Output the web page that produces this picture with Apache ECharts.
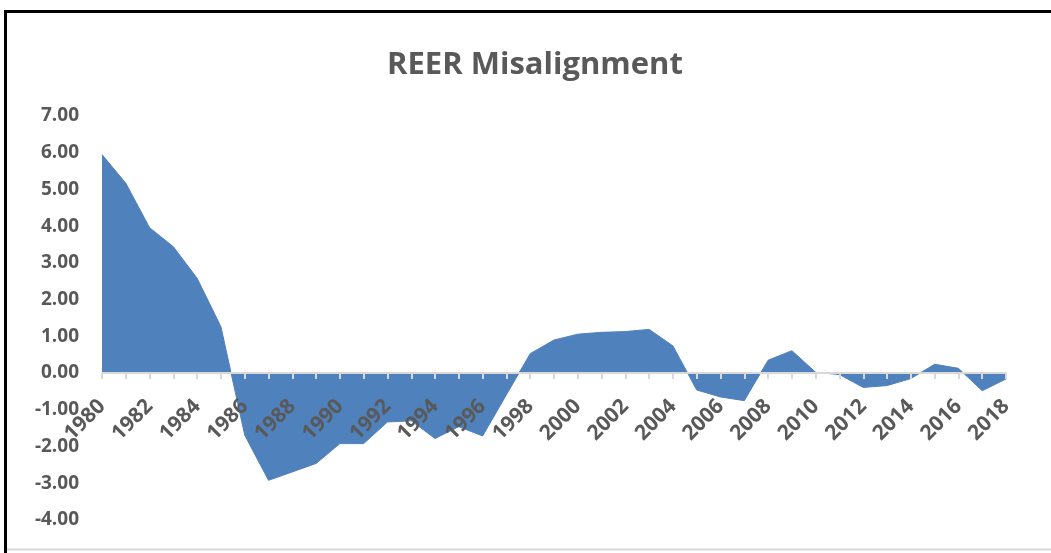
<!DOCTYPE html>
<html>
<head>
<meta charset="utf-8">
<script src="https://cdn.jsdelivr.net/npm/echarts@6/dist/echarts.min.js"></script>
<style>
  html, body { margin: 0; padding: 0; background: #fff; }
  #chart { width: 1051px; height: 553px; }
</style>
</head>
<body>
<div id="chart"></div>
<script>
// years on the x axis
const years = []
for (let y = 1980; y <= 2018; y++) years.push(String(y))

// misalignment values
const misalignment = [
  5.95, 5.17, 3.96, 3.44, 2.58, 1.26, -1.69, -2.92, -2.69, -2.46,
  -1.92, -1.92, -1.33, -1.30, -1.78, -1.46, -1.71, -0.59, 0.53, 0.90,
  1.06, 1.11, 1.13, 1.19, 0.74, -0.46, -0.65, -0.75, 0.35, 0.61,
  0.02, -0.04, -0.39, -0.34, -0.15, 0.24, 0.13, -0.48, -0.16
]

const yTicks = { min: -4, max: 7, step: 1 }

const grey = '#595959'
const blue = '#4f81bd'

// plot box
const W = 1051, H = 553
const grid = { left: 102, right: 45, top: 116, bottom: 33 }
const plotH = H - grid.top - grid.bottom
// the category axis sits on zero, labels included
const zeroOffset = -plotH * (0 - yTicks.min) / (yTicks.max - yTicks.min)

const chart = echarts.init(document.getElementById('chart'))

chart.setOption({
  backgroundColor: '#fff',
  animation: false,
  title: {
    text: 'REER Misalignment',
    left: 382,
    top: 45,
    textStyle: {
      color: grey,
      fontFamily: 'Open Sans',
      fontWeight: 'bold',
      fontSize: 31
    }
  },
  grid: { ...grid, containLabel: false, outerBoundsMode: 'none' },
  xAxis: {
    type: 'category',
    boundaryGap: false,
    data: years,
    offset: zeroOffset,
    axisLine: { onZero: false, lineStyle: { color: '#d9d9d9', width: 2 } },
    axisTick: { show: true, interval: 0, length: 6, lineStyle: { color: '#d9d9d9', width: 2 } },
    axisLabel: {
      interval: 1,
      rotate: 45,
      margin: 30,
      color: grey,
      fontFamily: 'Open Sans',
      fontWeight: 'bold',
      fontSize: 21
    },
    z: 3
  },
  yAxis: {
    type: 'value',
    min: yTicks.min,
    max: yTicks.max,
    interval: yTicks.step,
    axisLine: { show: false },
    axisTick: { show: false },
    splitLine: { show: false },
    axisLabel: {
      margin: 23,
      color: grey,
      fontFamily: 'Open Sans',
      fontWeight: 'bold',
      fontSize: 19,
      formatter: (v) => v.toFixed(2)
    }
  },
  series: [{
    type: 'line',
    data: misalignment,
    symbol: 'none',
    lineStyle: { color: blue, width: 1 },
    areaStyle: { color: blue, opacity: 1 },
    z: 2
  }],
  graphic: [
    // frame around the chart area
    { type: 'line', shape: { x1: 5.5, y1: 11.5, x2: W, y2: 11.5 }, style: { stroke: '#000', lineWidth: 3 } },
    { type: 'line', shape: { x1: 5.5, y1: 10, x2: 5.5, y2: H }, style: { stroke: '#000', lineWidth: 3 } },
    { type: 'line', shape: { x1: 7, y1: 549.5, x2: W, y2: 549.5 }, style: { stroke: '#d9d9d9', lineWidth: 2 } }
  ]
})
</script>
</body>
</html>
